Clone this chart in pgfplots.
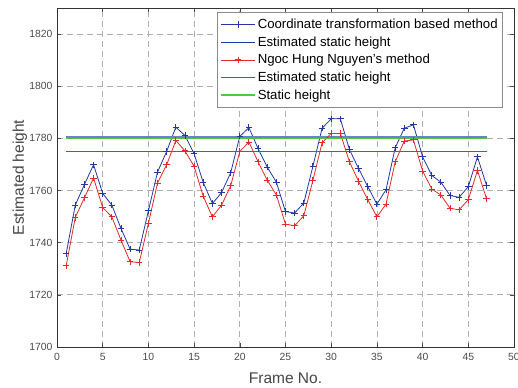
\documentclass[border=0pt]{standalone}
\usepackage{pgfplots}
\pgfplotsset{compat=1.18}
\usepackage{fontspec}
\setmainfont{Liberation Sans}
\usetikzlibrary{calc}
\definecolor{cblue}{RGB}{35,55,165}
\definecolor{cblueL}{RGB}{105,130,205}
\definecolor{cred}{RGB}{232,40,40}
\definecolor{cgreen}{RGB}{80,200,70}
\definecolor{cgrid}{RGB}{175,175,175}
\definecolor{ctick}{RGB}{75,75,75}
\definecolor{clabel}{RGB}{70,70,70}
\pgfplotstableread{
x y
1 1735.7
2 1754.4
3 1762.3
4 1769.9
5 1758.9
6 1754.4
7 1745.5
8 1737.5
9 1737.2
10 1752.2
11 1767.1
12 1775.0
13 1784.3
14 1781.1
15 1774.1
16 1763.1
17 1755.0
18 1759.2
19 1766.8
20 1780.8
21 1784.1
22 1776.1
23 1769.0
24 1763.2
25 1751.9
26 1751.4
27 1755.2
28 1769.3
29 1783.9
30 1787.5
31 1787.5
32 1775.7
33 1768.4
34 1761.5
35 1754.8
36 1760.3
37 1776.4
38 1783.9
39 1785.2
40 1772.9
41 1765.8
42 1763.2
43 1758.1
44 1757.4
45 1761.5
46 1772.9
47 1761.9
}\coordtab
\pgfplotstableread{
x y
1 1731.1
2 1749.7
3 1757.2
4 1764.8
5 1753.5
6 1749.9
7 1741.0
8 1732.7
9 1732.4
10 1747.4
11 1762.9
12 1769.9
13 1779.2
14 1775.2
15 1769.3
16 1757.8
17 1749.9
18 1754.4
19 1761.8
20 1775.0
21 1778.6
22 1771.0
23 1764.0
24 1758.3
25 1747.1
26 1746.5
27 1750.3
28 1763.9
29 1778.3
30 1781.9
31 1781.9
32 1771.0
33 1763.5
34 1756.5
35 1749.9
36 1754.8
37 1771.0
38 1779.0
39 1779.4
40 1767.5
41 1760.6
42 1758.3
43 1753.2
44 1752.6
45 1756.5
46 1767.7
47 1756.8
}\nguyentab
\pgfplotstableread{
x y
1 1774.97
47 1774.97
}\redstatic
\pgfplotstableread{
x y
1 1780.45
47 1780.45
}\bluestatic
\pgfplotstableread{
x y
1 1779.9
47 1779.9
}\truestatic
\begin{document}
\begin{tikzpicture}
\begin{axis}[
  scale only axis,
  width=457bp, height=339bp,
  xmin=0, xmax=50, ymin=1700, ymax=1830,
  xtick={0,5,...,50}, ytick={1700,1720,...,1820},
  tick align=inside,
  major tick length=4bp,
  tick style={ctick, line width=0.6pt},
  axis line style={black!80, line width=0.7pt},
  xmajorgrids, ymajorgrids,
  grid style={cgrid, dash pattern=on 6bp off 4bp, line width=0.7pt},
  /pgf/number format/assume math mode=true,
  /pgf/number format/1000 sep={},
  ticklabel style={font=\fontsize{10.4bp}{12bp}\selectfont, text=ctick},
  xticklabel style={yshift=-2.5bp},
  yticklabel style={xshift=-1bp},
  xlabel={Frame No.},
  ylabel={Estimated height},
  label style={font=\fontsize{15.5bp}{18bp}\selectfont, text=clabel},
  xlabel style={at={(axis description cs:0.5,0)}, anchor=base, yshift=-36bp},
  ylabel style={at={($(axis description cs:0,0.5)+(-33bp,0)$)}, rotate=0, anchor=base},
  legend style={at={(1,1)}, anchor=north east, xshift=-11bp, yshift=-4.5bp,
    draw=black!45, line width=0.6pt, fill=white,
    font=\fontsize{13.2bp}{15bp}\selectfont,
    inner xsep=3bp, inner ysep=4.3bp,
    row sep=2.6bp,
    cells={anchor=west}},
  legend image code/.code={%
    \draw[mark repeat=2,mark phase=2,#1] plot coordinates {(0bp,0bp) (17bp,0bp) (34bp,0bp)};},
]
\addplot[color=cblue, line width=0.8pt, mark=+, mark size=3.2bp, mark options={line width=0.9pt}] table[x=x,y=y] {\coordtab};
\addlegendentry{Coordinate transformation based method}
\addplot[color=cblueL, line width=1.6pt, forget plot] table[x=x,y=y] {\bluestatic};
\addlegendimage{color=cblue, line width=1pt}
\addlegendentry{Estimated static height}
\addplot[color=cred, line width=0.8pt, mark=+, mark size=3.2bp, mark options={line width=0.9pt}] table[x=x,y=y] {\nguyentab};
\addlegendentry{Ngoc Hung Nguyen’s method}
\addplot[color=cred, line width=1bp, forget plot] table[x=x,y=y] {\redstatic};
\addlegendimage{color=cred, line width=1.4pt}
\addlegendentry{Estimated static height}
\addplot[color=cgreen, line width=1.4pt] table[x=x,y=y] {\truestatic};
\addlegendentry{Static height}
\end{axis}
\pgfresetboundingbox
\path ($(current axis.south west)+(-57bp,-41bp)$) rectangle ($(current axis.north east)+(4bp,8bp)$);
\end{tikzpicture}
\end{document}
